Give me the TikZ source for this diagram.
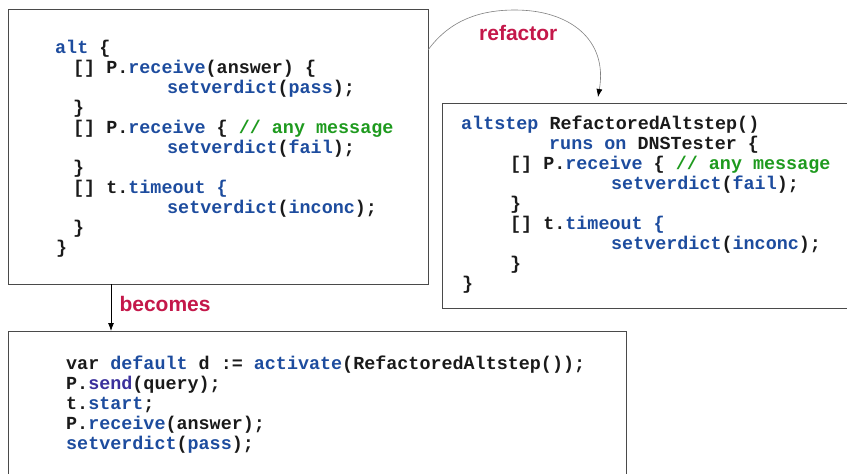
\documentclass[tikz,border=0pt]{standalone}
\usepackage{fontspec}
\usetikzlibrary{arrows.meta}
\newfontfamily\codefont{Liberation Mono}
\newfontfamily\labelfont{Liberation Sans}
\definecolor{kwblue}{HTML}{1D4C9E}
\definecolor{cmgreen}{HTML}{1E9A1E}
\definecolor{sendpurple}{HTML}{3B309C}
\definecolor{lblred}{HTML}{C4184A}
\definecolor{txt}{HTML}{1A1A1A}
\definecolor{boxline}{HTML}{4A4A4A}
\newcommand\kw[1]{{\color{kwblue}#1}}
\newcommand\cmt[1]{{\color{cmgreen}#1}}
\newcommand\snd[1]{{\color{sendpurple}#1}}
\newcommand\cl[2]{\hbox{\kern#1pt #2}}
\newcommand\codeblock[1]{\vtop{\baselineskip=20pt\lineskiplimit=-16000pt\lineskip=0pt #1}}
\tikzset{
  codebox/.style={draw=boxline, line width=1pt, rectangle, anchor=north west, inner sep=0pt},
  code/.style={anchor=base west, inner sep=0pt, text=txt, font=\codefont\bfseries\fontsize{18.4}{20}\selectfont},
  lbl/.style={anchor=base west, inner sep=0pt, text=lblred, font=\labelfont\bfseries\fontsize{21}{24}\selectfont},
}
\begin{document}
\begin{tikzpicture}[x=1pt,y=1pt]
\useasboundingbox (0,0) rectangle (847,-474);
% boxes
\node[codebox, minimum width=420pt, minimum height=275pt] (box1) at (8,-9) {};
\node[codebox, minimum width=420pt, minimum height=205pt] (box2) at (442,-103) {};
\node[codebox, minimum width=618pt, minimum height=160pt] (box3) at (8,-331) {};
% code of box 1
\node[code] (code1) at (55,-53) {\codeblock{%
\cl{0}{\kw{alt} \{}
\cl{18}{[] P.\kw{receive}(answer) \{}
\cl{112}{\kw{setverdict}(\kw{pass});}
\cl{18}{\}}
\cl{18}{[] P.\kw{receive} \{ \cmt{// any message}}
\cl{112}{\kw{setverdict}(\kw{fail});}
\cl{18}{\}}
\cl{18}{[] t.\kw{timeout \{}}
\cl{112}{\kw{setverdict}(\kw{inconc});}
\cl{18}{\}}
\cl{1}{\}}
}};
% code of box 2
\node[code] (code2) at (461,-129.3) {\codeblock{%
\cl{0}{\kw{altstep} RefactoredAltstep()}
\cl{88}{\kw{runs on} DNSTester \{}
\cl{49}{[] P.\kw{receive} \{ \cmt{// any message}}
\cl{150}{\kw{setverdict}(\kw{fail});}
\cl{49}{\}}
\cl{49}{[] t.\kw{timeout \{}}
\cl{150}{\kw{setverdict}(\kw{inconc});}
\cl{49}{\}}
\cl{1}{\}}
}};
% code of box 3
\node[code] (code3) at (66,-369.3) {\codeblock{%
\cl{0}{var \kw{default} d := \kw{activate}(RefactoredAltstep());}
\cl{0}{P.\snd{send}(query);}
\cl{0}{t.\kw{start};}
\cl{0}{P.\kw{receive}(answer);}
\cl{0}{\kw{setverdict}(\kw{pass});}
}};
% refactor connector
\coordinate (rfA) at (428,-50);
\coordinate (rfB) at (598,-97);
\draw[gray, line width=0.6pt, -{Latex[length=8pt,width=6pt,color=black]}]
  (rfA) .. controls (450,-20) and (480,-10) .. (515,-10)
        .. controls (570,-10) and (608,-40) .. (rfB);
\node[lbl] (refactor) at (479,-40.7) {refactor};
% becomes connector
\coordinate (bcA) at (111,-284);
\coordinate (bcB) at (111,-331);
\draw[black, line width=0.8pt, -{Latex[length=8pt,width=6pt]}] (bcA) -- (bcB);
\node[lbl] (becomes) at (119.3,-311.7) {becomes};
\end{tikzpicture}
\end{document}
